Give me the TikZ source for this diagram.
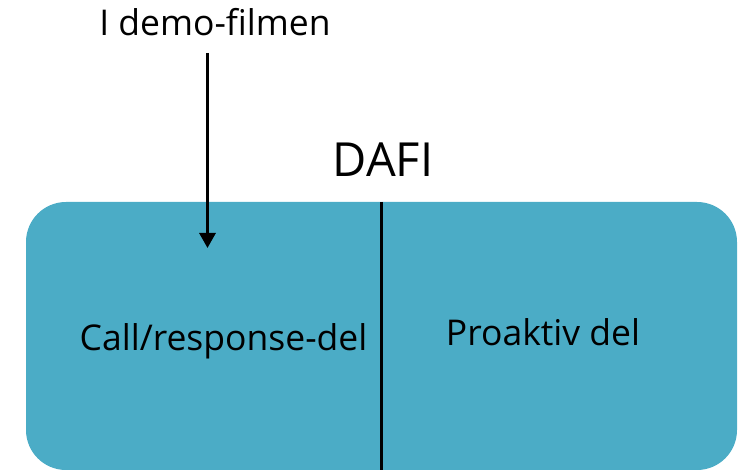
\documentclass[tikz,border=0pt]{standalone}
\usepackage{fontspec}
\setmainfont{Open Sans}
\usetikzlibrary{arrows.meta}
\definecolor{panelblue}{HTML}{4BACC6}
\tikzset{
  lbl/.style={inner sep=0pt, anchor=base, font=\fontsize{35.5}{40}\selectfont},
  title/.style={inner sep=0pt, anchor=base, font=\fontsize{47}{52}\selectfont},
  divider/.style={line width=3.5pt, black},
  pointer/.style={line width=3pt, black, -{Triangle[length=15pt, width=16pt]}}
}
\begin{document}
\begin{tikzpicture}[x=1pt, y=-1pt]
  \useasboundingbox (0,0) rectangle (739,470);
  % the DAFI panel
  \fill[panelblue, rounded corners=40pt] (26,202) rectangle (737,470);
  \coordinate (divtop) at (381.5,202);
  \coordinate (divbot) at (381.5,470);
  \draw[divider] (divtop) -- (divbot);
  % labels
  \node[title] (dafi) at (383,177) {DAFI};
  \node[lbl] (demo) at (215,36) {I demo-filmen};
  \node[lbl] (call) at (223.5,350) {Call/response-del};
  \node[lbl] (pro) at (543,345) {Proaktiv del};
  % pointer from the demo label into the left part
  \coordinate (tip) at (207.5,248);
  \draw[pointer] (207.5,53) coordinate (tail) -- (tip);
\end{tikzpicture}
\end{document}
